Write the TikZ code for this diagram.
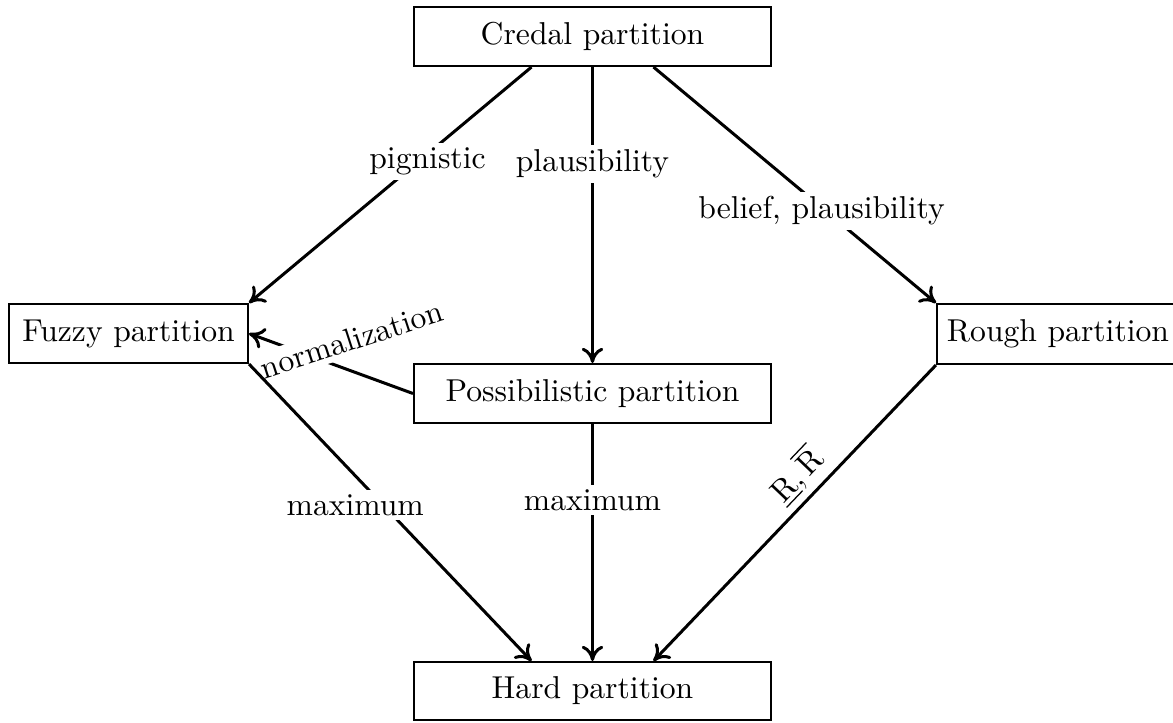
\documentclass[tikz,border=0pt]{standalone}
\usetikzlibrary{arrows.meta}
\begin{document}
\def\pxu{0.316pt}
\begin{tikzpicture}[x=\pxu, y=-\pxu,
  box/.style={draw, line width=0.65pt, rectangle, inner sep=0pt},
  arr/.style={line width=0.95pt, -{To[length=4.8pt,width=6.8pt]}},
  lbl/.style={fill=white, inner sep=1.5pt},
  rlbl/.style={inner sep=2pt}]
\useasboundingbox (0,0) rectangle (1173,722);

% partitions
\node[box, minimum width={357*\pxu}, minimum height={59*\pxu}] (credal) at (592.5,36.5) {Credal partition};
\node[box, minimum width={239*\pxu}, minimum height={59*\pxu}] (fuzzy) at (128.5,333.5) {Fuzzy partition};
\node[box, minimum width={357*\pxu}, minimum height={59*\pxu}] (poss) at (592.5,393.5) {Possibilistic partition};
\node[box, minimum width={242*\pxu}, minimum height={60*\pxu}] (rough) at (1058,334) {Rough partition};
\node[box, minimum width={357*\pxu}, minimum height={58*\pxu}] (hard) at (592.5,691) {Hard partition};

% transformations from the credal partition
\draw[arr] ([xshift={-61*\pxu}]credal.south) -- node[lbl, pos=0.4, xshift={9*\pxu}] (lpig) {pignistic} (fuzzy.north east);
\draw[arr] (credal.south) -- node[lbl, pos=0.327] (lpl) {plausibility} (poss.north);
\draw[arr] ([xshift={61*\pxu}]credal.south) -- node[lbl, pos=0.609, xshift={-4*\pxu}] (lbp) {belief, plausibility} (rough.north west);

% possibilistic to fuzzy
\draw[arr] (poss.west) -- (fuzzy.east);
\node[lbl, rotate=18] (lnorm) at (351.6,339.5) {normalization};

% hardening
\draw[arr] (fuzzy.south east) -- node[lbl, pos=0.475, xshift={-28*\pxu}] (lmax1) {maximum} ([xshift={-61*\pxu}]hard.north);
\draw[arr] (poss.south) -- node[lbl, pos=0.32] (lmax2) {maximum} (hard.north);
\draw[arr] (rough.south west) -- node[rlbl, pos=0.43, sloped, above] (lrr) {$\underline{\mathrm{R}},\overline{\mathrm{R}}$} ([xshift={61*\pxu}]hard.north);
\end{tikzpicture}
\end{document}
